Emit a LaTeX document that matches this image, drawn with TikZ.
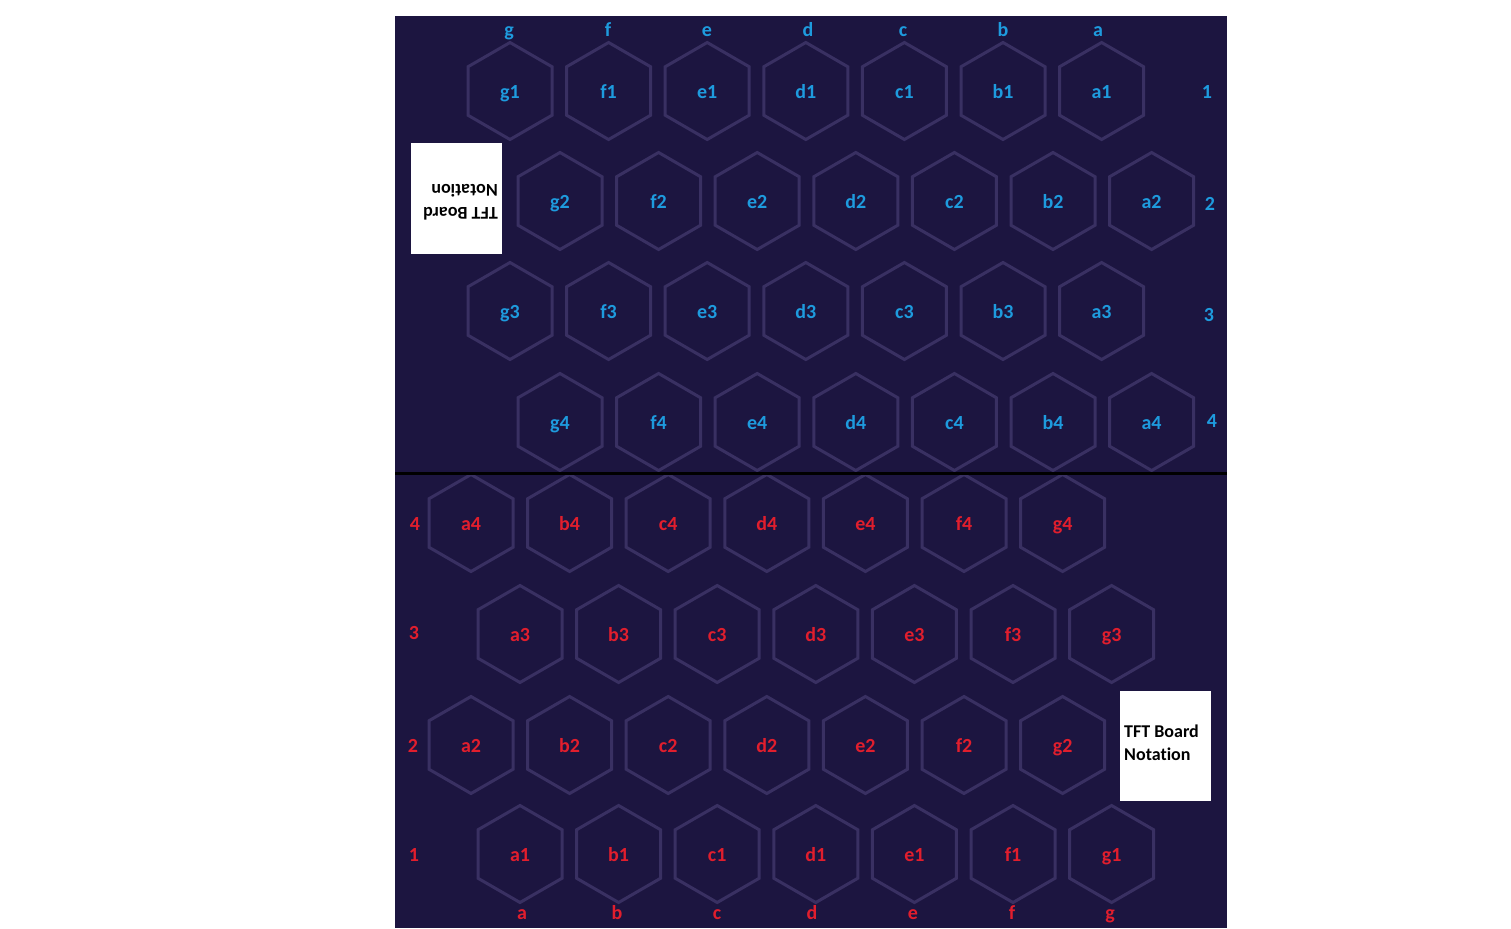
\documentclass[tikz,border=0pt]{standalone}
\usepackage{fontspec}
\setmainfont{Carlito}[RawFeature=-liga]
\usetikzlibrary{shapes.geometric}
\definecolor{boardbg}{HTML}{1C1540}
\definecolor{hexline}{HTML}{393062}
\definecolor{tftblue}{HTML}{1E9BDE}
\definecolor{tftred}{HTML}{E11E2D}
\begin{document}
\begin{tikzpicture}[x=1pt,y=-1pt,
  hexcell/.style={regular polygon, regular polygon sides=6, shape border rotate=30,
    minimum size=97pt, inner sep=0pt, outer sep=0pt, draw=hexline, line width=3pt},
  lab/.style={font=\bfseries\fontsize{20}{24}\selectfont, anchor=base, inner sep=0pt},
  bluelab/.style={lab, text=tftblue},
  redlab/.style={lab, text=tftred},
  notebox/.style={fill=white, minimum width=91pt, minimum height=110pt, inner sep=0pt, anchor=center},
  notetext/.style={font=\bfseries\fontsize{18}{22}\selectfont, text=black, inner sep=0pt, anchor=base west}]
\useasboundingbox (0,0) rectangle (1511,928);
\fill[white] (0,0) rectangle (1511,928);
\fill[boardbg] (395,16) rectangle (1227,928);
% top half (blue)
\foreach \r/\y/\xo in {1/91/510, 2/201/560, 3/311/510, 4/422/560} {
  \foreach \c [count=\i from 0] in {g,f,e,d,c,b,a} {
    \node[hexcell] (t\c\r) at ({\xo+98.6*\i},\y) {};
    \node[bluelab] (tl\c\r) at ({\xo+98.6*\i},{\y+7.5}) {\c\r};
  }
}
% bottom half (red)
\foreach \r/\y/\xo in {4/523/471, 3/634/520, 2/745/471, 1/854/520} {
  \foreach \c [count=\i from 0] in {a,b,c,d,e,f,g} {
    \node[hexcell] (b\c\r) at ({\xo+98.6*\i},\y) {};
    \node[redlab] (bl\c\r) at ({\xo+98.6*\i},{\y+7.5}) {\c\r};
  }
}
% separator
\coordinate (sepL) at (395,473);
\coordinate (sepR) at (1227,473);
\draw[line width=3pt, black] (sepL) -- (sepR);
% top column letters
\foreach \c/\x in {g/509, f/608, e/707, d/808, c/903, b/1003, a/1098}
  \node[bluelab] (tc\c) at (\x,37) {\c};
% top row numbers
\foreach \n/\x/\y in {1/1207/99, 2/1210/210, 3/1209/321, 4/1212/427}
  \node[bluelab] (tr\n) at (\x,\y) {\n};
% bottom column letters
\foreach \c/\x in {a/522, b/617, c/717, d/812, e/913, f/1012, g/1110}
  \node[redlab] (bc\c) at (\x,919) {\c};
% bottom row numbers
\foreach \n/\x/\y in {4/415/530, 3/414/639, 2/413/752, 1/414/861}
  \node[redlab] (br\n) at (\x,\y) {\n};
% note boxes
\node[notebox] (boxT) at (456.5,198.5) {};
\node[notetext, rotate=180] (boxT1) at (498,207) {TFT Board};
\node[notetext, rotate=180] (boxT2) at (498,184) {Notation};
\node[notebox] (boxB) at (1165.5,746) {};
\node[notetext] (boxB1) at (1124,737) {TFT Board};
\node[notetext] (boxB2) at (1124,760) {Notation};
\end{tikzpicture}
\end{document}
